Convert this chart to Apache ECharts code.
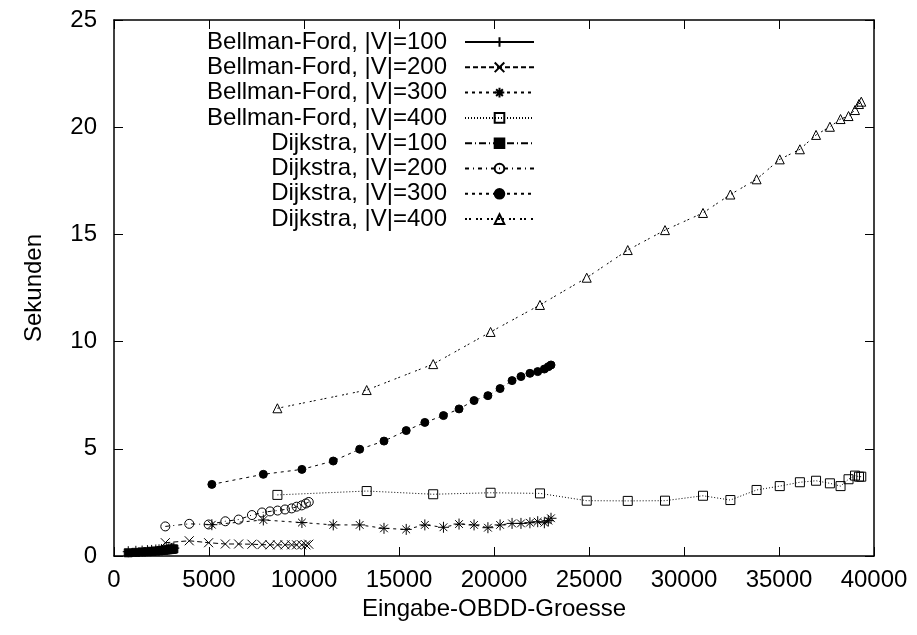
<!DOCTYPE html>
<html><head><meta charset="utf-8">
<script src="https://cdn.jsdelivr.net/npm/echarts@6/dist/echarts.min.js"></script>
<style>html,body{margin:0;padding:0;background:#fff}#c{width:917px;height:635px}</style>
</head><body><div id="c"></div>
<script>
// x values (Eingabe-OBDD-Groesse) per |V|
const x100 = [750, 1150, 1480, 1760, 1980, 2200, 2370, 2500, 2630, 2750, 2860, 2950, 3030, 3100, 3150];
const x200 = [2700, 3960, 4980, 5860, 6560, 7260, 7790, 8210, 8610, 9000, 9350, 9610, 9880, 10100, 10250];
const x300 = [5150, 7860, 9890, 11540, 12930, 14210, 15380, 16360, 17340, 18160, 18950, 19680, 20320, 20950, 21420, 21890, 22300, 22650, 22860, 23000];
const x400 = [8600, 13300, 16800, 19820, 22420, 24880, 27040, 29000, 31000, 32440, 33820, 35040, 36100, 36950, 37680, 38240, 38660, 39000, 39210, 39330];

// seconds
const bf100 = [0.20, 0.22, 0.23, 0.25, 0.26, 0.28, 0.29, 0.30, 0.31, 0.32, 0.33, 0.34, 0.35, 0.36, 0.37];
const bf200 = [0.62, 0.71, 0.62, 0.56, 0.56, 0.55, 0.53, 0.52, 0.52, 0.52, 0.52, 0.52, 0.52, 0.52, 0.55];
const bf300 = [1.46, 1.68, 1.56, 1.45, 1.45, 1.29, 1.24, 1.45, 1.34, 1.49, 1.45, 1.32, 1.45, 1.52, 1.52, 1.55, 1.60, 1.55, 1.65, 1.76];
const bf400 = [2.85, 3.03, 2.88, 2.95, 2.92, 2.58, 2.57, 2.58, 2.81, 2.61, 3.08, 3.26, 3.44, 3.51, 3.39, 3.26, 3.58, 3.75, 3.70, 3.70];
const dj100 = [0.15, 0.17, 0.19, 0.20, 0.22, 0.23, 0.24, 0.26, 0.27, 0.28, 0.29, 0.30, 0.31, 0.32, 0.33];
const dj200 = [1.38, 1.50, 1.47, 1.62, 1.70, 1.91, 2.03, 2.08, 2.12, 2.17, 2.22, 2.30, 2.36, 2.45, 2.52];
const dj300 = [3.34, 3.81, 4.04, 4.43, 4.98, 5.36, 5.85, 6.23, 6.55, 6.86, 7.25, 7.48, 7.81, 8.18, 8.37, 8.52, 8.60, 8.72, 8.83, 8.91];
const dj400 = [6.89, 7.74, 8.95, 10.45, 11.71, 12.98, 14.27, 15.20, 16.00, 16.86, 17.57, 18.50, 18.97, 19.64, 20.02, 20.38, 20.52, 20.80, 21.08, 21.19];

const seriesNames = ['Bellman-Ford, |V|=100','Bellman-Ford, |V|=200','Bellman-Ford, |V|=300','Bellman-Ford, |V|=400',
  'Dijkstra, |V|=100','Dijkstra, |V|=200','Dijkstra, |V|=300','Dijkstra, |V|=400'];
const xTicks = [0, 40000, 5000];
const yTicks = [0, 25, 5];

const FONT = "'Liberation Sans', Arial, Helvetica, sans-serif";
const FS = 24;
const zip = (xs, ys) => xs.map((x, i) => [x, ys[i]]);
const CLEAR = 'rgba(0,0,0,0)';

const styles = [
  {sym: 'path://M5 0L5 10M0 5L10 5', size: 11, fill: CLEAR, dash: 'solid'},
  {sym: 'path://M0 0L10 10M10 0L0 10', size: 9, fill: CLEAR, dash: [5, 3]},
  {sym: 'path://M5 0L5 10M0 5L10 5M1.5 1.5L8.5 8.5M8.5 1.5L1.5 8.5', size: 11, fill: CLEAR, dash: [3, 4]},
  {sym: 'rect', size: 9, fill: CLEAR, dash: [1, 2]},
  {sym: 'rect', size: 8, fill: '#000', dash: [7, 3, 1, 3]},
  {sym: 'circle', size: 9, fill: CLEAR, dash: [4, 4, 1, 4]},
  {sym: 'circle', size: 8, fill: '#000', dash: [3, 4]},
  {sym: 'triangle', size: 9, fill: CLEAR, dash: [2, 2, 2, 5]}
];
const dataSets = [zip(x100, bf100), zip(x200, bf200), zip(x300, bf300), zip(x400, bf400),
  zip(x100, dj100), zip(x200, dj200), zip(x300, dj300), zip(x400, dj400)];

const series = seriesNames.map((name, i) => ({
  name, type: 'line', xAxisIndex: 0, yAxisIndex: 0,
  data: dataSets[i],
  symbol: styles[i].sym, symbolSize: styles[i].size, symbolKeepAspect: true,
  showAllSymbol: true,
  lineStyle: {color: '#000', width: 1, type: styles[i].dash},
  itemStyle: {color: styles[i].fill, borderColor: '#000', borderWidth: 1},
  emphasis: {disabled: true},
  z: 10 - i
}));

const axisLineStyle = {show: true, onZero: false, lineStyle: {color: '#000', width: 1.5}};
const tickStyle = {show: true, inside: true, length: 9, lineStyle: {color: '#000', width: 1}};

const chart = echarts.init(document.getElementById('c'), null, {renderer: 'canvas'});
chart.setOption({
  animation: false,
  backgroundColor: '#fff',
  grid: {left: 114, right: 43, top: 20, bottom: 79, containLabel: false},
  legend: {
    orient: 'vertical', right: 377, top: 25, align: 'right',
    itemWidth: 69, itemHeight: 12, itemGap: 1.3, padding: 5,
    textStyle: {fontFamily: FONT, fontSize: FS, color: '#000', lineHeight: 24, padding: [0, 13, 0, 0]},
    data: seriesNames
  },
  xAxis: [{
    type: 'value', position: 'bottom', min: xTicks[0], max: xTicks[1], interval: xTicks[2],
    name: 'Eingabe-OBDD-Groesse', nameLocation: 'middle', nameGap: 40,
    nameTextStyle: {fontFamily: FONT, fontSize: FS, color: '#000'},
    axisLine: axisLineStyle, axisTick: tickStyle,
    axisLabel: {fontFamily: FONT, fontSize: FS, color: '#000', margin: 12, formatter: v => String(v)},
    splitLine: {show: false}
  }, {
    type: 'value', position: 'top', min: xTicks[0], max: xTicks[1], interval: xTicks[2],
    axisLine: axisLineStyle, axisTick: tickStyle, axisLabel: {show: false}, splitLine: {show: false}
  }],
  yAxis: [{
    type: 'value', position: 'left', min: yTicks[0], max: yTicks[1], interval: yTicks[2],
    name: 'Sekunden', nameLocation: 'middle', nameGap: 68, nameRotate: 90,
    nameTextStyle: {fontFamily: FONT, fontSize: FS, color: '#000'},
    axisLine: axisLineStyle, axisTick: tickStyle,
    axisLabel: {fontFamily: FONT, fontSize: FS, color: '#000', margin: 17, formatter: v => String(v)},
    splitLine: {show: false}
  }, {
    type: 'value', position: 'right', min: yTicks[0], max: yTicks[1], interval: yTicks[2],
    axisLine: axisLineStyle, axisTick: tickStyle, axisLabel: {show: false}, splitLine: {show: false}
  }],
  series
});
</script>
</body></html>
